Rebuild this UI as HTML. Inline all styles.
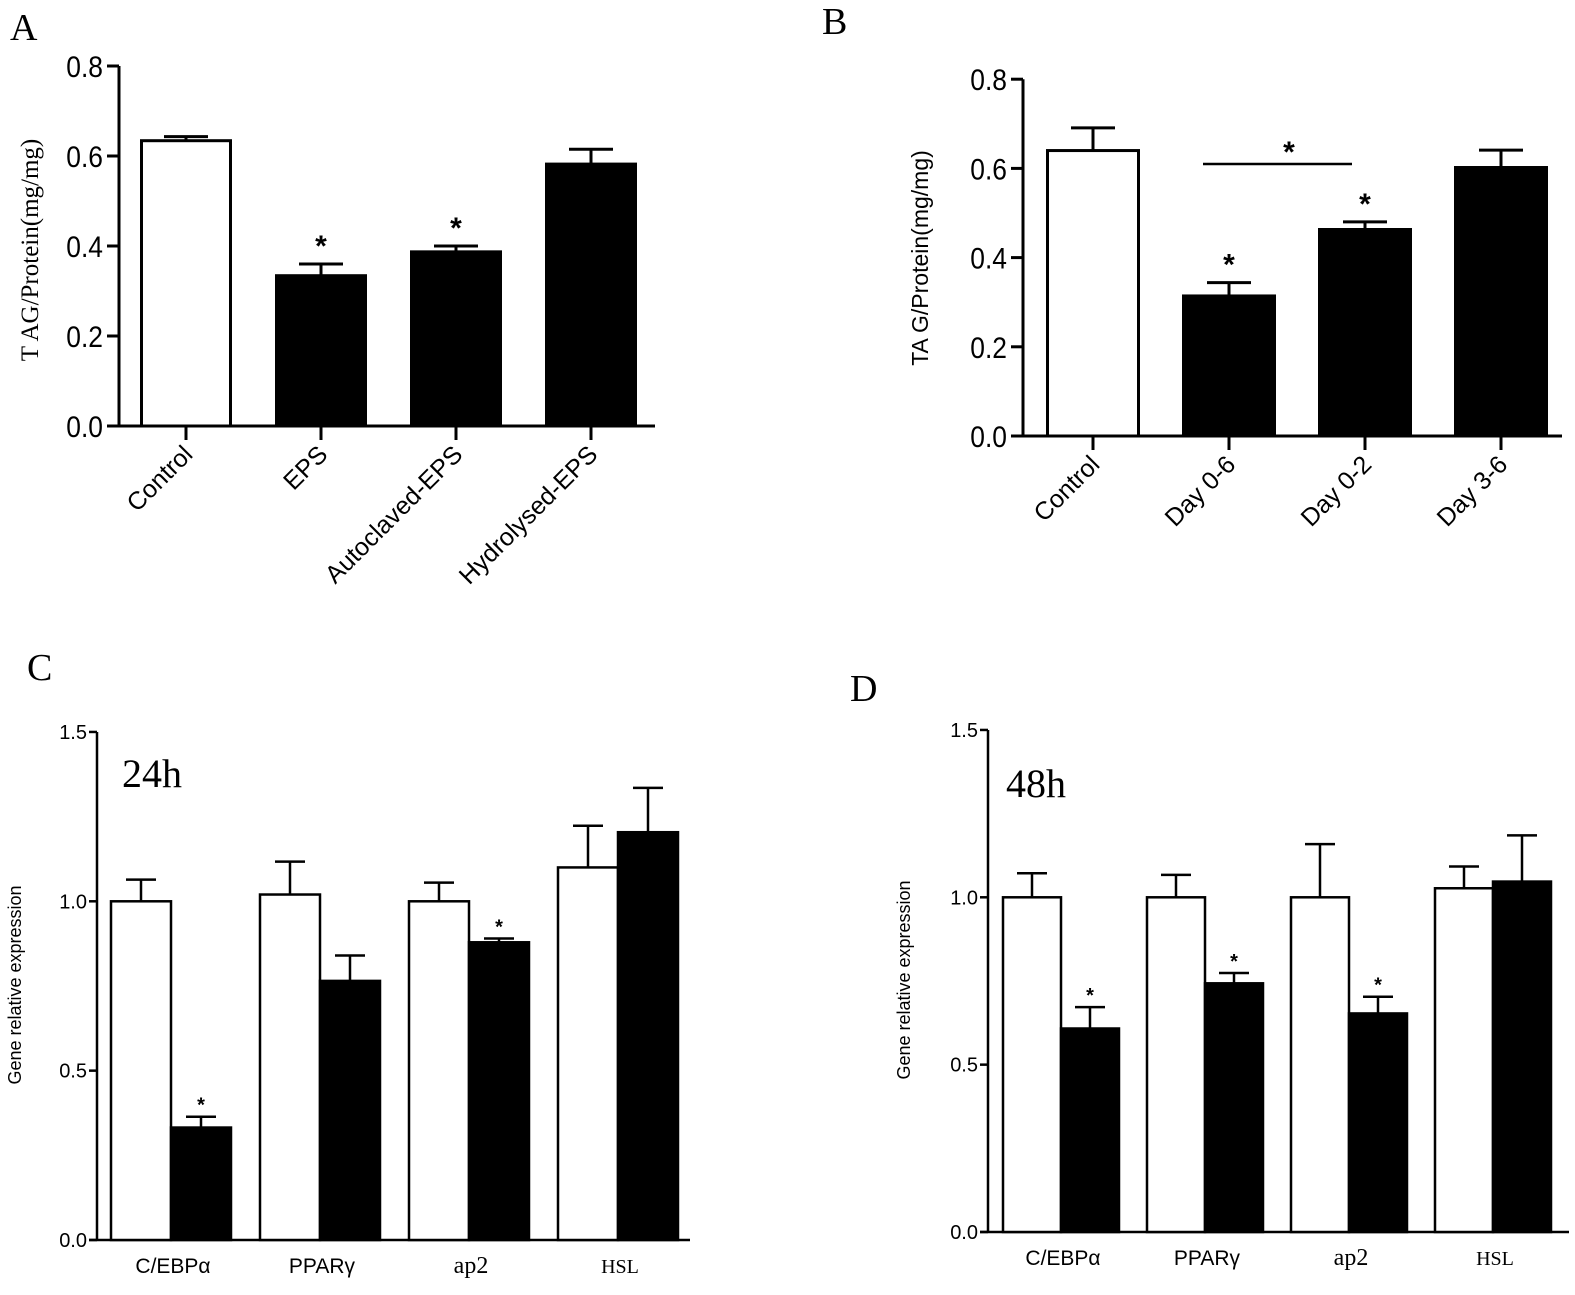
<!DOCTYPE html>
<html><head><meta charset="utf-8"><style>
html,body{margin:0;padding:0;background:#fff;}
svg{display:block;}
text{fill:#000;}
</style></head><body>
<svg id="fig" width="1575" height="1295" viewBox="0 0 1575 1295" xmlns="http://www.w3.org/2000/svg">
<text x="10" y="40" font-family="Liberation Serif" font-size="38">A</text>
<text x="822" y="34" font-family="Liberation Serif" font-size="38">B</text>
<text x="27" y="680" font-family="Liberation Serif" font-size="38">C</text>
<text x="850" y="701" font-family="Liberation Serif" font-size="38">D</text>
<text transform="translate(38,250) rotate(-90)" text-anchor="middle" font-family="Liberation Serif" font-size="25">T AG/Protein(mg/mg)</text>
<text transform="translate(928,258) rotate(-90)" text-anchor="middle" font-family="Liberation Sans" font-size="23">TA G/Protein(mg/mg)</text>
<text transform="translate(21,985) rotate(-90)" text-anchor="middle" font-family="Liberation Sans" font-size="18">Gene relative expression</text>
<text transform="translate(910,980) rotate(-90)" text-anchor="middle" font-family="Liberation Sans" font-size="18">Gene relative expression</text>
<text x="122" y="787" font-family="Liberation Serif" font-size="40">24h</text>
<text x="1006" y="797" font-family="Liberation Serif" font-size="40">48h</text>
</svg>
<script>
// Panel A data
const catsA = ["Control","EPS","Autoclaved-EPS","Hydrolysed-EPS"];
const valsA = [0.634, 0.334, 0.387, 0.582];
const errsA = [0.643, 0.360, 0.400, 0.615];
const sigA = [false, true, true, false];
const ticksAB = [0.0, 0.2, 0.4, 0.6, 0.8];
// Panel B data
const catsB = ["Control","Day 0-6","Day 0-2","Day 3-6"];
const valsB = [0.640, 0.314, 0.463, 0.602];
const errsB = [0.691, 0.344, 0.480, 0.641];
const sigB = [false, true, true, false];
// Panel C/D data
const genes = ["C/EBPα","PPARγ","ap2","HSL"];
const ticksCD = [0.0, 0.5, 1.0, 1.5];
const ctrlC = [1.0, 1.02, 1.0, 1.10];
const ctrlErrC = [1.064, 1.117, 1.055, 1.223];
const trtC = [0.332, 0.765, 0.879, 1.204];
const trtErrC = [0.364, 0.84, 0.89, 1.335];
const trtSigC = [true, false, true, false];
const ctrlD = [1.0, 1.0, 1.0, 1.027];
const ctrlErrD = [1.072, 1.067, 1.159, 1.092];
const trtD = [0.608, 0.743, 0.653, 1.047];
const trtErrD = [0.672, 0.774, 0.703, 1.185];
const trtSigD = [true, true, true, false];

const NS = "http://www.w3.org/2000/svg";
const svg = document.getElementById("fig");
function mk(tag, attrs, txt){
  const e = document.createElementNS(NS, tag);
  for (const k in attrs) e.setAttribute(k, attrs[k]);
  if (txt !== undefined) e.textContent = txt;
  svg.appendChild(e);
  return e;
}
function errBar(cx, yTop, yCap, half, sw){
  const a = mk("line",{x1:cx,x2:cx,y1:yTop,y2:yCap,stroke:"#000","stroke-width":sw});
  
  
  const b = mk("line",{x1:cx-half,x2:cx+half,y1:yCap,y2:yCap,stroke:"#000","stroke-width":sw});
  
  
}
function star(x, y, size){
  const s = mk("text",{x:x,y:y,"text-anchor":"middle","font-family":"Liberation Sans","font-size":size,"font-weight":"bold"},"*");
  
  
}

// Panels A & B
function panelAB(p){
  const y = v => p.y0 - v*p.k;
  const x = i => p.c0 + i*p.step;
  const ax = mk("line",{x1:p.ax,x2:p.ax,y1:y(0.8),y2:p.y0,stroke:"#000","stroke-width":3});
  
  
  const xa = mk("line",{x1:p.ax-12,x2:p.xEnd,y1:p.y0,y2:p.y0,stroke:"#000","stroke-width":3});
  
  
  ticksAB.forEach(t=>{
    const tk = mk("line",{x1:p.ax-12,x2:p.ax,y1:y(t),y2:y(t),stroke:"#000","stroke-width":3});
    
    
    const tl = mk("text",{transform:`translate(${p.ax-16},${y(t)+11}) scale(0.88,1)`,"text-anchor":"end","font-family":"Liberation Sans","font-size":30},t.toFixed(1));
    
    
  });
  p.cats.forEach((c,i)=>{
    const cx = x(i);
    const bar = mk("rect",{x:cx-p.w/2,y:y(p.vals[i]),width:p.w,height:p.y0-y(p.vals[i]),fill:i===0?"#fff":"#000",stroke:"#000","stroke-width":3});
    
    
    errBar(cx, y(p.vals[i]), y(p.errs[i]), p.cap, 3);
    if (p.sig[i]) star(cx, y(p.errs[i]) - 8, 30);
    const tk = mk("line",{x1:cx,x2:cx,y1:p.y0,y2:p.y0+14,stroke:"#000","stroke-width":3});
    
    
    const lb = mk("text",{transform:`translate(${cx+8},${p.y0+30}) rotate(-45)`,"text-anchor":"end","font-family":"Liberation Sans","font-size":25},c);
    
    
  });
  return {x,y};
}
panelAB({cats:catsA,vals:valsA,errs:errsA,sig:sigA,ax:119,y0:426,k:450,c0:186,step:135,w:89,cap:22,xEnd:655});
panelAB({cats:catsB,vals:valsB,errs:errsB,sig:sigB,ax:1023,y0:436,k:446,c0:1093,step:136,w:91,cap:22,xEnd:1562});
// bracket in B between Day 0-6 and Day 0-2
const br = mk("line",{x1:1203,x2:1352,y1:164,y2:164,stroke:"#000","stroke-width":2.5});


star(1289, 162, 30);

// Panels C & D
function panelCD(p){
  const y = v => p.y0 - v*p.k;
  const x = i => p.c0 + i*p.step;
  const ax = mk("line",{x1:p.ax,x2:p.ax,y1:y(1.5),y2:p.y0,stroke:"#000","stroke-width":2.5});
  
  
  const xa = mk("line",{x1:p.ax-8,x2:p.xEnd,y1:p.y0,y2:p.y0,stroke:"#000","stroke-width":2.5});
  
  
  ticksCD.forEach(t=>{
    const tk = mk("line",{x1:p.ax-8,x2:p.ax,y1:y(t),y2:y(t),stroke:"#000","stroke-width":2.5});
    
    
    const tl = mk("text",{x:p.ax-10,y:y(t)+7,"text-anchor":"end","font-family":"Liberation Sans","font-size":20},t.toFixed(1));
    
    
  });
  genes.forEach((g,i)=>{
    const cx = x(i);
    const b1 = mk("rect",{x:cx-p.w,y:y(p.ctrl[i]),width:p.w,height:p.y0-y(p.ctrl[i]),fill:"#fff",stroke:"#000","stroke-width":2.5});
    
    
    errBar(cx-p.w/2, y(p.ctrl[i]), y(p.ctrlErr[i]), 15, 2.5);
    const b2 = mk("rect",{x:cx,y:y(p.trt[i]),width:p.w,height:p.y0-y(p.trt[i]),fill:"#000",stroke:"#000","stroke-width":2.5});
    
    
    errBar(cx+p.w/2, y(p.trt[i]), y(p.trtErr[i]), 15, 2.5);
    if (p.sig[i]) star(cx+p.w/2, y(p.trtErr[i]) - 5, 20);
    const serif = (g==="ap2"||g==="HSL");
    const lb = mk("text",{x:cx+2,y:p.y0+33,"text-anchor":"middle","font-family":serif?"Liberation Serif":"Liberation Sans","font-size":serif?(g==="HSL"?20:24):21},g);
    
    
  });
}
panelCD({ctrl:ctrlC,ctrlErr:ctrlErrC,trt:trtC,trtErr:trtErrC,sig:trtSigC,ax:97,y0:1240,k:338.7,c0:171,step:149,w:60,xEnd:690});
panelCD({ctrl:ctrlD,ctrlErr:ctrlErrD,trt:trtD,trtErr:trtErrD,sig:trtSigD,ax:988,y0:1232,k:334.7,c0:1061,step:144,w:58,xEnd:1569});
</script>
</body></html>
